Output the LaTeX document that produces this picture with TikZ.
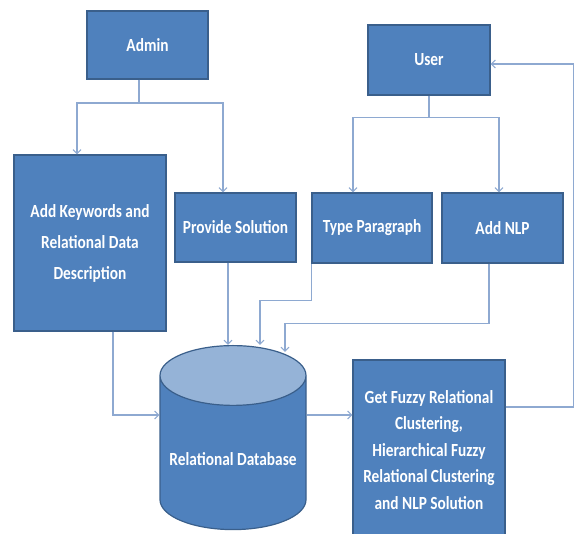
\documentclass[tikz,border=0pt]{standalone}
\usepackage{fontspec}
\newfontfamily\boxfont{Carlito}[FakeStretch=0.83]
\usetikzlibrary{shapes.geometric,arrows.meta}
\definecolor{boxblue}{HTML}{4F81BD}
\definecolor{boxedge}{HTML}{3A5F8B}
\definecolor{dbtop}{HTML}{95B3D7}
\definecolor{linkblue}{HTML}{8EA9D1}
\begin{document}
\begin{tikzpicture}[x=1pt,y=-1pt,>={Straight Barb[length=4pt,width=8pt]},
  box/.style={draw=boxedge,fill=boxblue,line width=1.2pt,text=white,align=center,inner sep=0pt,
    font=\boxfont\bfseries\fontsize{18.5}{27}\selectfont},
  arrow/.style={draw=linkblue,line width=1.1pt,->}]
\useasboundingbox (0,0) rectangle (574,534);
\clip (0,0) rectangle (574,534);
\node[box,minimum width=121pt,minimum height=68pt] at (147.5,45) (admin) {Admin};
\node[box,minimum width=152pt,minimum height=176pt,font=\boxfont\bfseries\fontsize{18.5}{31}\selectfont]
  at (90,243) (keys) {Add Keywords and\\Relational Data\\Description};
\node[box,minimum width=121pt,minimum height=69pt] at (235.5,227.5) (sol) {Provide Solution};
\node[box,minimum width=122pt,minimum height=70pt] at (429,60) (user) {User};
\node[box,minimum width=120pt,minimum height=70pt] at (372,228) (para) {Type Paragraph};
\node[box,minimum width=121pt,minimum height=70pt] at (502.5,228) (nlp) {Add NLP};
\node[box,fill=none,shape=cylinder,shape border rotate=90,aspect=0.47,cylinder uses custom fill,
  cylinder body fill=boxblue,cylinder end fill=dbtop,minimum width=146pt,minimum height=184pt,anchor=north]
  at (233,345) (db) {\raisebox{-13pt}[0pt][0pt]{Relational Database}};
\node[box,minimum width=152pt,minimum height=180pt,font=\boxfont\bfseries\fontsize{18.5}{26.5}\selectfont]
  at (429,450) (fuzzy) {Get Fuzzy Relational\\Clustering,\\Hierarchical Fuzzy\\Relational Clustering\\and NLP Solution};
\coordinate (ajoin) at (139,103);
\draw[draw=linkblue,line width=1.1pt] (admin.south -| ajoin) -- (ajoin);
\draw[arrow] (ajoin) -| ([xshift=-13pt]keys.north);
\draw[arrow] (ajoin) -| ([xshift=-12.5pt]sol.north);
\draw[draw=linkblue,line width=1.1pt] (user.south) -- ++(0,22) coordinate (ujoin);
\draw[arrow] (ujoin) -| ([xshift=-19pt]para.north);
\draw[arrow] (ujoin) -| ([xshift=-3.5pt]nlp.north);
\draw[arrow] ([xshift=-7.5pt]sol.south) -- ([xshift=-7.5pt]sol.south |- db.north);
\draw[arrow] (para.south west) -- ++(0,37) -| ([xshift=27pt]db.north);
\draw[arrow] ([xshift=-13.5pt]nlp.south) -- ++(0,60) -| ([xshift=52pt,yshift=-7pt]db.north);
\draw[arrow] ([xshift=23pt]keys.south) |- (db.west |- 0,415);
\draw[arrow] (db.east |- 0,415) -- (fuzzy.west |- 0,415);
\draw[arrow] ([yshift=43pt]fuzzy.east) -- ++(68,0) |- ([yshift=-4pt]user.east);
\end{tikzpicture}
\end{document}
